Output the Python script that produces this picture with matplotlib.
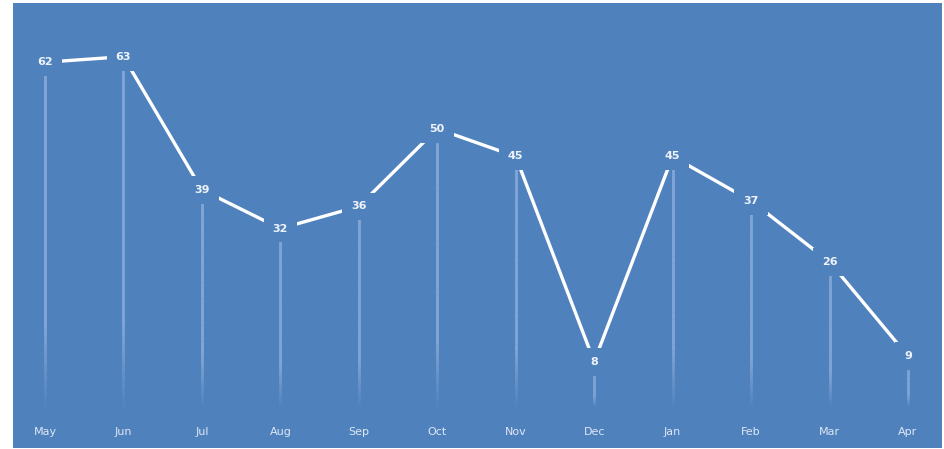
import numpy as np
import matplotlib
matplotlib.use("Agg")
import matplotlib.pyplot as plt
from matplotlib.collections import LineCollection

months = ["May", "Jun", "Jul", "Aug", "Sep", "Oct", "Nov", "Dec", "Jan", "Feb", "Mar", "Apr"]
values = [62, 63, 39, 32, 36, 50, 45, 8, 45, 37, 26, 9]

BG = "#4F81BD"
W, H = 945, 449
fig = plt.figure(figsize=(W / 100, H / 100), dpi=100, facecolor="white")
ax = fig.add_axes([13 / W, 1 / H, 929 / W, 445 / H])
ax.set_facecolor(BG)
for s in ax.spines.values():
    s.set_visible(False)
ax.set_xticks([])
ax.set_yticks([])

x = np.arange(len(months))
ax.set_xlim(-0.408, 11.434)
ax.set_ylim(-7.57, 72.68)

# drop lines with fade toward the bottom
segs, cols = [], []
nseg = 40
for xi, v in zip(x, values):
    ys = np.linspace(v, 0, nseg + 1)
    for k in range(nseg):
        frac = k / nseg
        a = 0.4 if frac < 0.75 else 0.4 * (1 - (frac - 0.75) / 0.25)
        segs.append([(xi, ys[k]), (xi, ys[k + 1])])
        cols.append((0.82, 0.88, 1.0, max(a, 0)))
ax.add_collection(LineCollection(segs, colors=cols, linewidths=2.0, zorder=1))

ax.plot(x, values, color="white", lw=2.4, solid_capstyle="butt", zorder=2)

for xi, v in zip(x, values):
    ax.text(xi, v, str(v), ha="center", va="center", fontsize=8, fontweight="bold",
            color="#eef3fa", zorder=3,
            bbox=dict(boxstyle="square,pad=0.8", fc=BG, ec="none"))

for xi, m in zip(x, months):
    ax.text(xi, -4.69, m, ha="center", va="center", fontsize=8, color="#dde7f3", zorder=3)

fig.savefig("out.png", dpi=100, facecolor="white")
